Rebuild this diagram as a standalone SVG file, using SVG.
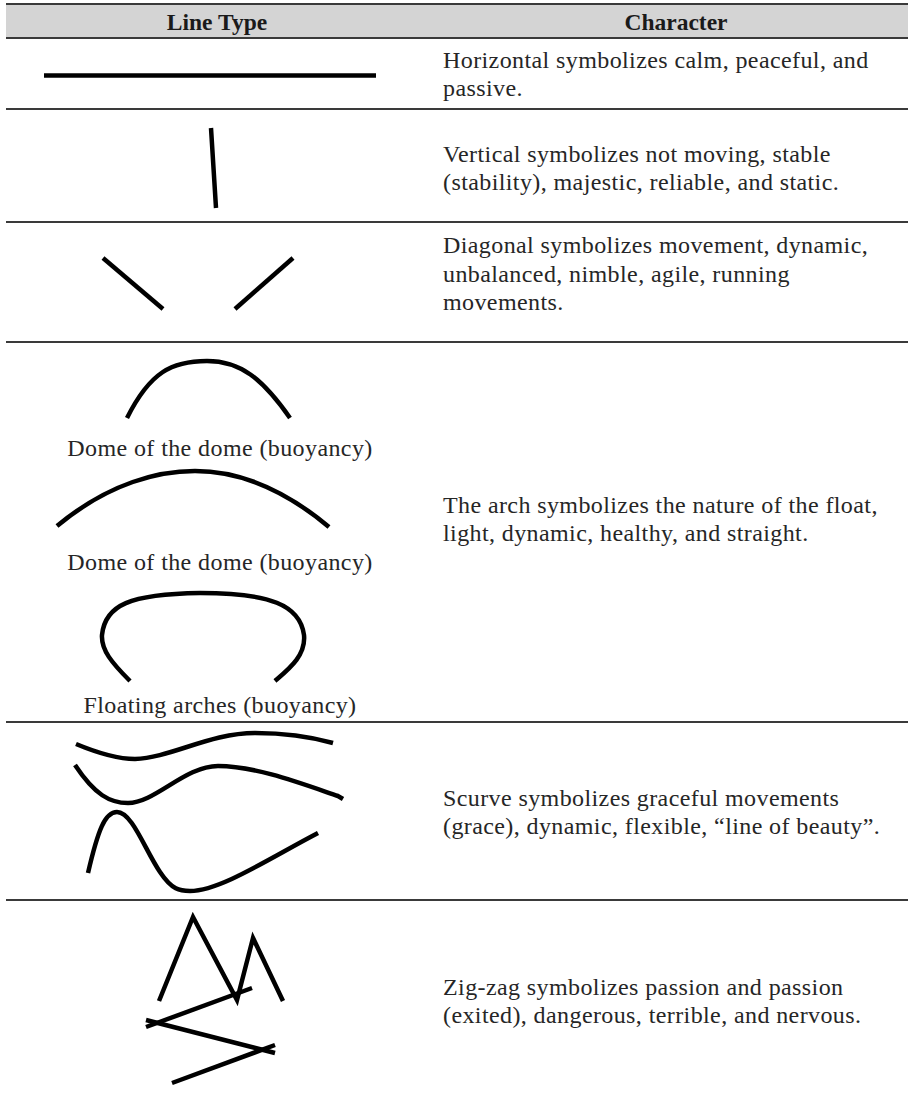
<svg xmlns="http://www.w3.org/2000/svg" width="908" height="1104" viewBox="0 0 908 1104">
<style>
.rule{stroke:#3a3a3a;stroke-width:2;fill:none}
.hd{font-family:"Liberation Serif",serif;font-weight:bold;font-size:23.5px;fill:#1a1a1a;text-anchor:middle}
.tx{font-family:"Liberation Serif",serif;font-size:24px;letter-spacing:0.4px;fill:#262626}
.lb{font-family:"Liberation Serif",serif;font-size:24px;letter-spacing:0.4px;fill:#262626;text-anchor:middle}
.ln{stroke:#000;fill:none;stroke-width:4.5;stroke-linejoin:miter}
</style>
<rect x="6" y="4" width="902" height="34" fill="#d4d4d4"/>
<g id="rules">
<line class="rule" x1="6" y1="4" x2="908" y2="4"/>
<line class="rule" x1="6" y1="38" x2="908" y2="38"/>
<line class="rule" x1="6" y1="109" x2="908" y2="109"/>
<line class="rule" x1="6" y1="222" x2="908" y2="222"/>
<line class="rule" x1="6" y1="342" x2="908" y2="342"/>
<line class="rule" x1="6" y1="722" x2="908" y2="722"/>
<line class="rule" x1="6" y1="900" x2="908" y2="900"/>
</g>
<g id="header">
<text class="hd" x="217" y="30">Line Type</text>
<text class="hd" x="676" y="30">Character</text>
</g>
<g id="row-horizontal">
<line class="ln" x1="44" y1="75.5" x2="376" y2="75.5" stroke-width="5"/>
<text class="tx" x="443" y="68">Horizontal symbolizes calm, peaceful, and</text>
<text class="tx" x="443" y="96">passive.</text>
</g>
<g id="row-vertical">
<line class="ln" x1="211" y1="128" x2="216" y2="208" stroke-width="5"/>
<text class="tx" x="443" y="162">Vertical symbolizes not moving, stable</text>
<text class="tx" x="443" y="190">(stability), majestic, reliable, and static.</text>
</g>
<g id="row-diagonal">
<line class="ln" x1="103" y1="258" x2="163" y2="309"/>
<line class="ln" x1="293" y1="258" x2="235" y2="309"/>
<text class="tx" x="443" y="253">Diagonal symbolizes movement, dynamic,</text>
<text class="tx" x="443" y="282">unbalanced, nimble, agile, running</text>
<text class="tx" x="443" y="310">movements.</text>
</g>
<g id="row-arch">
<path class="ln" d="M127,418 C150,372 172,361 207,361 C240,361 262,378 290,418"/>
<text class="lb" x="220" y="456">Dome of the dome (buoyancy)</text>
<path class="ln" d="M57,526 C110,482 160,471 195,471 C240,471 285,490 329,527"/>
<text class="lb" x="220" y="570">Dome of the dome (buoyancy)</text>
<path class="ln" d="M130,681 C112,663 101,650 102,635 C105,605 130,594 200,593 C270,593 300,605 304,635 C306,655 290,668 275,681"/>
<text class="lb" x="220" y="713">Floating arches (buoyancy)</text>
<text class="tx" x="443" y="513">The arch symbolizes the nature of the float,</text>
<text class="tx" x="443" y="541">light, dynamic, healthy, and straight.</text>
</g>
<g id="row-scurve">
<path class="ln" d="M76,744 C100,754 118,759 135,759 C170,758 210,733 255,733 C290,733 315,738 333,743"/>
<path class="ln" d="M75,765 C95,795 110,803 128,803 C155,803 185,766 218,766 C255,766 300,783 338,796 L343,799"/>
<path class="ln" d="M88,873 C98,830 105,812 117,812 C132,812 145,850 160,872 C172,890 180,891 190,891 C220,891 270,858 318,833"/>
<text class="tx" x="443" y="806">Scurve symbolizes graceful movements</text>
<text class="tx" x="443" y="834">(grace), dynamic, flexible, “line of beauty”.</text>
</g>
<g id="row-zigzag">
<polyline class="ln" points="159,1001 193,917 237,1000 253,938 283,1001"/>
<line class="ln" x1="252" y1="988" x2="146" y2="1027"/>
<line class="ln" x1="146" y1="1020" x2="275" y2="1053"/>
<line class="ln" x1="275" y1="1045" x2="172" y2="1083"/>
<text class="tx" x="443" y="995">Zig-zag symbolizes passion and passion</text>
<text class="tx" x="443" y="1023">(exited), dangerous, terrible, and nervous.</text>
</g>
</svg>
